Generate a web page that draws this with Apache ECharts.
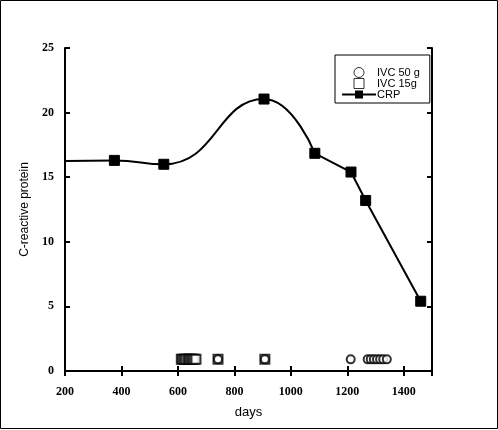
<!DOCTYPE html>
<html>
<head>
<meta charset="utf-8">
<script src="https://cdn.jsdelivr.net/npm/echarts@6/dist/echarts.min.js"></script>
<style>
html,body{margin:0;padding:0;background:#fff;}
#c{width:498px;height:430px;}
</style>
</head>
<body>
<div id="c"></div>
<script>
// CRP curve (days, value)
const crpSmoothDays = [200, 375, 550, 905, 1085];
const crpSmoothVals = [16.25, 16.3, 16.0, 21.05, 16.85];
const crpLineDays = [1085, 1213, 1265, 1460];
const crpLineVals = [16.85, 15.4, 13.2, 5.4];
// IVC administrations (days), drawn at a fixed marker level
const ivc50Days = [742, 908, 1212, 1272, 1283, 1294, 1305, 1316, 1327, 1340];
const ivc15Days = [612, 617, 623, 629, 636, 641, 647, 652, 658, 664, 742, 908];
const ivcLevel = 0.9;
const xTicks = [200, 400, 600, 800, 1000, 1200, 1400];
const yTicks = [0, 5, 10, 15, 20, 25];

const chart = echarts.init(document.getElementById('c'));
const labelFont = {fontFamily: 'Liberation Serif', fontWeight: 'bold', fontSize: 12, color: '#000'};
const smoothData = crpSmoothDays.map((d, i) => i === 0 ? {value: [d, crpSmoothVals[i]], symbol: 'none'} : [d, crpSmoothVals[i]]);
const lineData = crpLineDays.map((d, i) => i === 0 ? {value: [d, crpLineVals[i]], symbol: 'none'} : [d, crpLineVals[i]]);

chart.setOption({
  animation: false,
  backgroundColor: '#fff',
  graphic: [{type: 'rect', shape: {x: 0.5, y: 0.5, width: 497, height: 428}, style: {fill: 'none', stroke: '#000', lineWidth: 1}}],
  grid: {left: 65, top: 48, right: 66, bottom: 59},
  legend: {
    left: 335, top: 55, orient: 'vertical',
    borderColor: '#000', borderWidth: 1, borderRadius: 0,
    padding: [12, 10, 3, 6], itemGap: 0, itemWidth: 34, itemHeight: 10,
    symbolKeepAspect: true,
    textStyle: {fontFamily: 'Liberation Sans', fontSize: 11, color: '#000', padding: [0, 0, 0, -4]},
    data: [
      {name: 'IVC 50 g', icon: 'circle', itemStyle: {color: '#fff', borderColor: '#000', borderWidth: 1}},
      {name: 'IVC 15g', icon: 'path://M0,0H10V10H0Z', itemStyle: {color: '#fff', borderColor: '#000', borderWidth: 1}},
      {name: 'CRP'}
    ]
  },
  xAxis: [{
    type: 'value', min: 200, max: 1500, interval: 200, position: 'bottom',
    name: 'days', nameLocation: 'middle', nameGap: 35,
    nameTextStyle: {fontFamily: 'Liberation Sans', fontSize: 13, color: '#000'},
    axisLine: {lineStyle: {color: '#000', width: 2}},
    axisTick: {inside: true, length: 5, lineStyle: {color: '#000', width: 2}},
    axisLabel: Object.assign({margin: 15, showMaxLabel: false, formatter: v => xTicks.includes(v) ? String(v) : ''}, labelFont),
    splitLine: {show: false}
  }, {
    type: 'value', min: 200, max: 1500, interval: 200, position: 'top',
    axisLine: {lineStyle: {color: '#000', width: 2}},
    axisTick: {inside: true, length: 5, lineStyle: {color: '#000', width: 2}},
    axisLabel: {show: false}, splitLine: {show: false}
  }],
  yAxis: [{
    type: 'value', min: 0, max: 25, interval: 5, position: 'left',
    name: 'C-reactive protein', nameLocation: 'middle', nameGap: 24,
    nameTextStyle: {fontFamily: 'Liberation Sans', fontSize: 12, color: '#000'},
    axisLine: {show: true, lineStyle: {color: '#000', width: 2}},
    axisTick: {show: true, inside: true, length: 5, lineStyle: {color: '#000', width: 2}},
    axisLabel: Object.assign({margin: 11, formatter: v => yTicks.includes(v) ? String(v) : ''}, labelFont),
    splitLine: {show: false}
  }, {
    type: 'value', min: 0, max: 25, interval: 5, position: 'right',
    axisLine: {show: true, lineStyle: {color: '#000', width: 2}},
    axisTick: {show: true, inside: true, length: 5, lineStyle: {color: '#000', width: 2}},
    axisLabel: {show: false}, splitLine: {show: false}
  }],
  series: [{
    name: 'IVC 50 g', type: 'scatter', symbol: 'emptyCircle', symbolSize: 8,
    itemStyle: {color: '#000', borderColor: '#000', borderWidth: 1.2},
    data: ivc50Days.map(d => [d, ivcLevel]), z: 3
  }, {
    name: 'IVC 15g', type: 'scatter', symbol: 'emptyRect', symbolSize: 9,
    itemStyle: {color: '#000', borderColor: '#000', borderWidth: 1.8},
    data: ivc15Days.map(d => [d, ivcLevel]), z: 2
  }, {
    name: 'CRP', type: 'line', smooth: 0.5, symbol: 'rect', symbolSize: 10,
    lineStyle: {color: '#000', width: 2}, itemStyle: {color: '#000', borderColor: '#000'},
    data: smoothData, z: 4
  }, {
    name: 'CRP', type: 'line', smooth: false, symbol: 'rect', symbolSize: 10,
    lineStyle: {color: '#000', width: 2}, itemStyle: {color: '#000', borderColor: '#000'},
    data: lineData, z: 4
  }]
});
</script>
</body>
</html>
